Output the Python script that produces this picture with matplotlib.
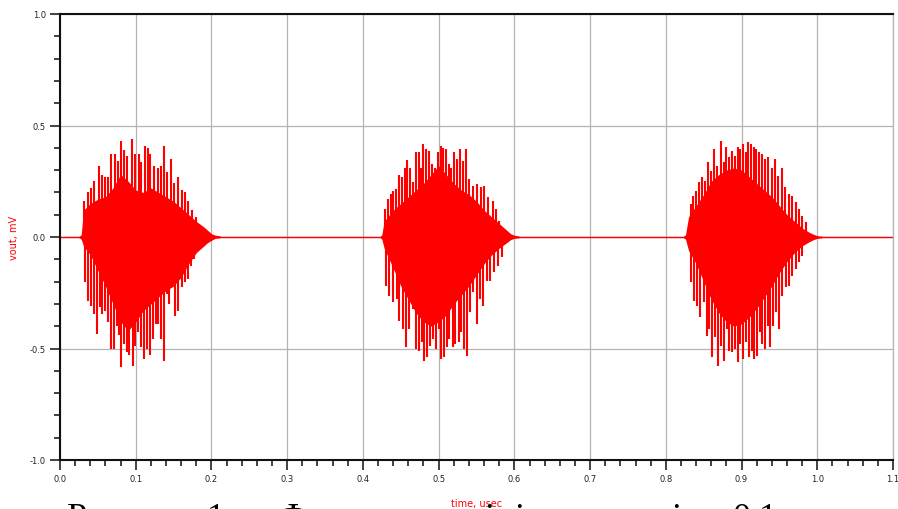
import numpy as np
import matplotlib
matplotlib.use("Agg")
import matplotlib.pyplot as plt
from matplotlib.ticker import MultipleLocator

# Burst 1 (0.03 - 0.2 usec): tall positive / negative spikes and dense core
b1_top_t = [0.0317, 0.0374, 0.0405, 0.045, 0.051, 0.055, 0.059, 0.063, 0.0678, 0.073, 0.076, 0.0806,
            0.085, 0.089, 0.0955, 0.0995, 0.104, 0.107, 0.112, 0.1166, 0.119, 0.1245, 0.129, 0.133,
            0.1378, 0.1417, 0.146, 0.151, 0.156, 0.1607, 0.1655, 0.1695, 0.174, 0.179, 0.185]
b1_top_v = [0.16, 0.20, 0.22, 0.25, 0.32, 0.28, 0.27, 0.27, 0.37, 0.37, 0.34, 0.43,
            0.39, 0.365, 0.44, 0.37, 0.37, 0.335, 0.41, 0.40, 0.37, 0.32, 0.31, 0.32,
            0.41, 0.29, 0.35, 0.24, 0.27, 0.21, 0.20, 0.16, 0.12, 0.09, 0.05]
b1_bot_t = [0.033, 0.0374, 0.0405, 0.045, 0.049, 0.053, 0.056, 0.06, 0.064, 0.067, 0.071, 0.075,
            0.078, 0.081, 0.0845, 0.088, 0.0915, 0.096, 0.0995, 0.1034, 0.1074, 0.1105, 0.1145, 0.119,
            0.1224, 0.1264, 0.130, 0.1338, 0.1377, 0.141, 0.1445, 0.148, 0.152, 0.156, 0.161, 0.165,
            0.1695, 0.1725, 0.177, 0.182]
b1_bot_v = [-0.20, -0.285, -0.31, -0.345, -0.435, -0.314, -0.345, -0.33, -0.38, -0.50, -0.50, -0.40,
            -0.44, -0.585, -0.48, -0.517, -0.53, -0.577, -0.487, -0.427, -0.495, -0.547, -0.50, -0.53,
            -0.457, -0.39, -0.39, -0.457, -0.555, -0.256, -0.30, -0.166, -0.353, -0.33, -0.226, -0.20,
            -0.19, -0.13, -0.10, -0.054]
b1_core_t = [0.024, 0.028, 0.031, 0.04, 0.05, 0.06, 0.07, 0.08, 0.09, 0.10, 0.11, 0.12, 0.13, 0.14,
             0.15, 0.16, 0.17, 0.18, 0.19, 0.195, 0.2, 0.205, 0.21, 0.215]
b1_core_hi = [0.0, 0.01, 0.12, 0.15, 0.17, 0.18, 0.22, 0.28, 0.25, 0.21, 0.20, 0.22, 0.20, 0.18,
              0.16, 0.13, 0.10, 0.07, 0.045, 0.03, 0.015, 0.008, 0.006, 0.0]
b1_core_lo = [0.0, -0.01, -0.04, -0.08, -0.15, -0.22, -0.30, -0.38, -0.42, -0.38, -0.33, -0.30, -0.27, -0.24,
              -0.22, -0.18, -0.12, -0.07, -0.04, -0.025, -0.015, -0.006, -0.004, 0.0]

# Burst 2 (0.43 - 0.6 usec)
b2_top_t = [0.429, 0.4335, 0.4366, 0.440, 0.4437, 0.448, 0.4516, 0.455, 0.4577, 0.462, 0.4657, 0.4697,
            0.4737, 0.4763, 0.480, 0.4833, 0.4873, 0.4912, 0.495, 0.4992, 0.5027, 0.506, 0.5097, 0.5133,
            0.5163, 0.520, 0.5246, 0.528, 0.5322, 0.536, 0.5405, 0.5457, 0.551, 0.556, 0.560, 0.5655,
            0.5713, 0.5757, 0.580, 0.5846]
b2_top_v = [0.126, 0.17, 0.193, 0.208, 0.215, 0.28, 0.268, 0.31, 0.345, 0.31, 0.245, 0.38,
            0.38, 0.31, 0.417, 0.395, 0.387, 0.327, 0.31, 0.38, 0.41, 0.40, 0.395, 0.327,
            0.31, 0.38, 0.35, 0.395, 0.342, 0.395, 0.26, 0.23, 0.237, 0.223, 0.23, 0.178,
            0.163, 0.126, 0.073, 0.036]
b2_bot_t = [0.4305, 0.434, 0.440, 0.4446, 0.448, 0.4525, 0.4568, 0.4612, 0.4657, 0.4697, 0.4737, 0.4776,
            0.481, 0.485, 0.4886, 0.493, 0.4965, 0.50, 0.5035, 0.507, 0.5106, 0.514, 0.5185, 0.522,
            0.5265, 0.530, 0.5335, 0.5374, 0.5414, 0.5458, 0.550, 0.5546, 0.559, 0.5635, 0.5678, 0.573,
            0.5788, 0.5833]
b2_bot_v = [-0.218, -0.263, -0.293, -0.278, -0.375, -0.412, -0.495, -0.412, -0.323, -0.50, -0.51, -0.472,
            -0.555, -0.54, -0.487, -0.457, -0.50, -0.412, -0.547, -0.54, -0.495, -0.457, -0.495, -0.48,
            -0.472, -0.427, -0.50, -0.532, -0.338, -0.248, -0.39, -0.278, -0.308, -0.196, -0.196, -0.158,
            -0.129, -0.091]
b2_core_t = [0.422, 0.425, 0.428, 0.44, 0.45, 0.46, 0.47, 0.48, 0.49, 0.50, 0.51, 0.52, 0.53, 0.54,
             0.55, 0.56, 0.57, 0.58, 0.59, 0.595, 0.6, 0.605, 0.61]
b2_core_hi = [0.0, 0.01, 0.07, 0.12, 0.15, 0.18, 0.21, 0.24, 0.28, 0.32, 0.28, 0.24, 0.21, 0.19,
              0.16, 0.12, 0.09, 0.06, 0.03, 0.015, 0.008, 0.005, 0.0]
b2_core_lo = [0.0, -0.01, -0.05, -0.14, -0.22, -0.28, -0.34, -0.38, -0.40, -0.38, -0.35, -0.30, -0.26, -0.22,
              -0.17, -0.12, -0.08, -0.05, -0.025, -0.012, -0.006, -0.004, 0.0]

# Burst 3 (0.83 - 1.0 usec)
b3_top_t = [0.8328, 0.8362, 0.8394, 0.8438, 0.8473, 0.8517, 0.856, 0.8596, 0.864, 0.868, 0.8728, 0.8764,
            0.8794, 0.8834, 0.8877, 0.8913, 0.8949, 0.8983, 0.9023, 0.9054, 0.9089, 0.9124, 0.916, 0.9194,
            0.923, 0.9274, 0.931, 0.9353, 0.9397, 0.9441, 0.9485, 0.953, 0.9573, 0.9626, 0.967, 0.9714,
            0.9758, 0.9802, 0.9846]
b3_top_v = [0.148, 0.185, 0.208, 0.245, 0.268, 0.253, 0.335, 0.297, 0.395, 0.32, 0.432, 0.335,
            0.402, 0.357, 0.387, 0.365, 0.402, 0.395, 0.417, 0.38, 0.425, 0.417, 0.402, 0.395,
            0.38, 0.372, 0.35, 0.357, 0.31, 0.35, 0.275, 0.31, 0.223, 0.193, 0.185, 0.156,
            0.126, 0.096, 0.066]
b3_bot_t = [0.8332, 0.8376, 0.8411, 0.8455, 0.8508, 0.8543, 0.8574, 0.8613, 0.8649, 0.8693, 0.8728, 0.8768,
            0.8803, 0.8838, 0.8878, 0.8913, 0.8949, 0.8983, 0.9023, 0.9063, 0.9098, 0.9134, 0.9168, 0.9204,
            0.9239, 0.9274, 0.931, 0.9345, 0.938, 0.9415, 0.9451, 0.9494, 0.9538, 0.9583, 0.9626, 0.967,
            0.9714, 0.9758, 0.9802]
b3_bot_v = [-0.203, -0.285, -0.308, -0.36, -0.293, -0.443, -0.412, -0.54, -0.45, -0.577, -0.487, -0.555,
            -0.412, -0.51, -0.517, -0.50, -0.562, -0.48, -0.547, -0.472, -0.54, -0.51, -0.547, -0.532,
            -0.427, -0.48, -0.50, -0.398, -0.495, -0.398, -0.338, -0.412, -0.263, -0.226, -0.218, -0.174,
            -0.143, -0.113, -0.084]
b3_core_t = [0.822, 0.826, 0.83, 0.84, 0.85, 0.86, 0.87, 0.88, 0.89, 0.90, 0.91, 0.92, 0.93, 0.94,
             0.95, 0.96, 0.97, 0.98, 0.99, 0.995, 1.0, 1.005, 1.01]
b3_core_hi = [0.0, 0.01, 0.09, 0.14, 0.19, 0.25, 0.28, 0.30, 0.31, 0.30, 0.27, 0.24, 0.21, 0.18,
              0.14, 0.10, 0.07, 0.04, 0.02, 0.012, 0.006, 0.004, 0.0]
b3_core_lo = [0.0, -0.01, -0.06, -0.12, -0.20, -0.28, -0.34, -0.38, -0.40, -0.39, -0.36, -0.32, -0.27, -0.22,
              -0.16, -0.11, -0.07, -0.04, -0.02, -0.012, -0.006, -0.004, 0.0]

# flat trace between bursts
base_t = [0.0, 1.1]
base_v = [0.0, 0.0]

x_labels = ["0.0", "0.1", "0.2", "0.3", "0.4", "0.5", "0.6", "0.7", "0.8", "0.9", "1.0", "1.1"]
y_labels = ["-1.0", "-0.5", "0.0", "0.5", "1.0"]

red = "#ff0000"

fig = plt.figure(figsize=(8.98, 5.10), dpi=100)
ax = fig.add_axes([60 / 898, 49 / 510, 833 / 898, 446 / 510])

ax.plot(base_t, base_v, color=red, lw=1.0)
bursts = [
    (b1_top_t, b1_top_v, b1_bot_t, b1_bot_v, b1_core_t, b1_core_hi, b1_core_lo),
    (b2_top_t, b2_top_v, b2_bot_t, b2_bot_v, b2_core_t, b2_core_hi, b2_core_lo),
    (b3_top_t, b3_top_v, b3_bot_t, b3_bot_v, b3_core_t, b3_core_hi, b3_core_lo),
]
for top_t, top_v, bot_t, bot_v, core_t, core_hi, core_lo in bursts:
    ax.fill_between(core_t, core_lo, core_hi, color=red, lw=0)
    ax.vlines(top_t, 0, top_v, color=red, lw=1.5)
    ax.vlines(bot_t, 0, bot_v, color=red, lw=1.5)

ax.set_xlim(0, 1.1)
ax.set_ylim(-1.0, 1.0)
ax.set_xticks(np.arange(len(x_labels)) * 0.1)
ax.set_xticklabels(x_labels)
ax.set_yticks([-1.0, -0.5, 0.0, 0.5, 1.0])
ax.set_yticklabels(y_labels)
ax.xaxis.set_minor_locator(MultipleLocator(0.02))
ax.yaxis.set_minor_locator(MultipleLocator(0.1))
ax.tick_params(which="major", direction="out", length=7, width=1.2, labelsize=6, colors="#222222", pad=3)
ax.tick_params(which="minor", direction="out", length=4, width=1.2, colors="#222222")
ax.grid(True, which="major", color="#b4b4b4", lw=0.9)
ax.set_axisbelow(True)

for side in ["left", "bottom", "top"]:
    ax.spines[side].set_linewidth(1.5)
    ax.spines[side].set_color("#111111")
ax.spines["right"].set_color("#b4b4b4")
ax.spines["right"].set_linewidth(0.9)

ax.set_xlabel("time, usec", color=red, fontsize=7, labelpad=11)
ax.set_ylabel("vout, mV", color=red, fontsize=7, labelpad=8)

# caption underneath, mostly cut off by the bottom of the image
cap = dict(fontsize=26, family="Liberation Serif", color="black", va="baseline")
base_y = -18 / 510
fig.text(67 / 898, base_y, "Рисунок", **cap)
fig.text(207 / 898, base_y, "1 –", **cap)
fig.text(278 / 898, base_y, "Ф", **cap)
fig.text(484 / 898, base_y, "і", **cap)
fig.text(514 / 898, base_y, "і", **cap)
fig.text(671 / 898, base_y, "і", **cap)
fig.text(733 / 898, base_y, "0.1", **cap)

fig.savefig("out.png", dpi=100)
